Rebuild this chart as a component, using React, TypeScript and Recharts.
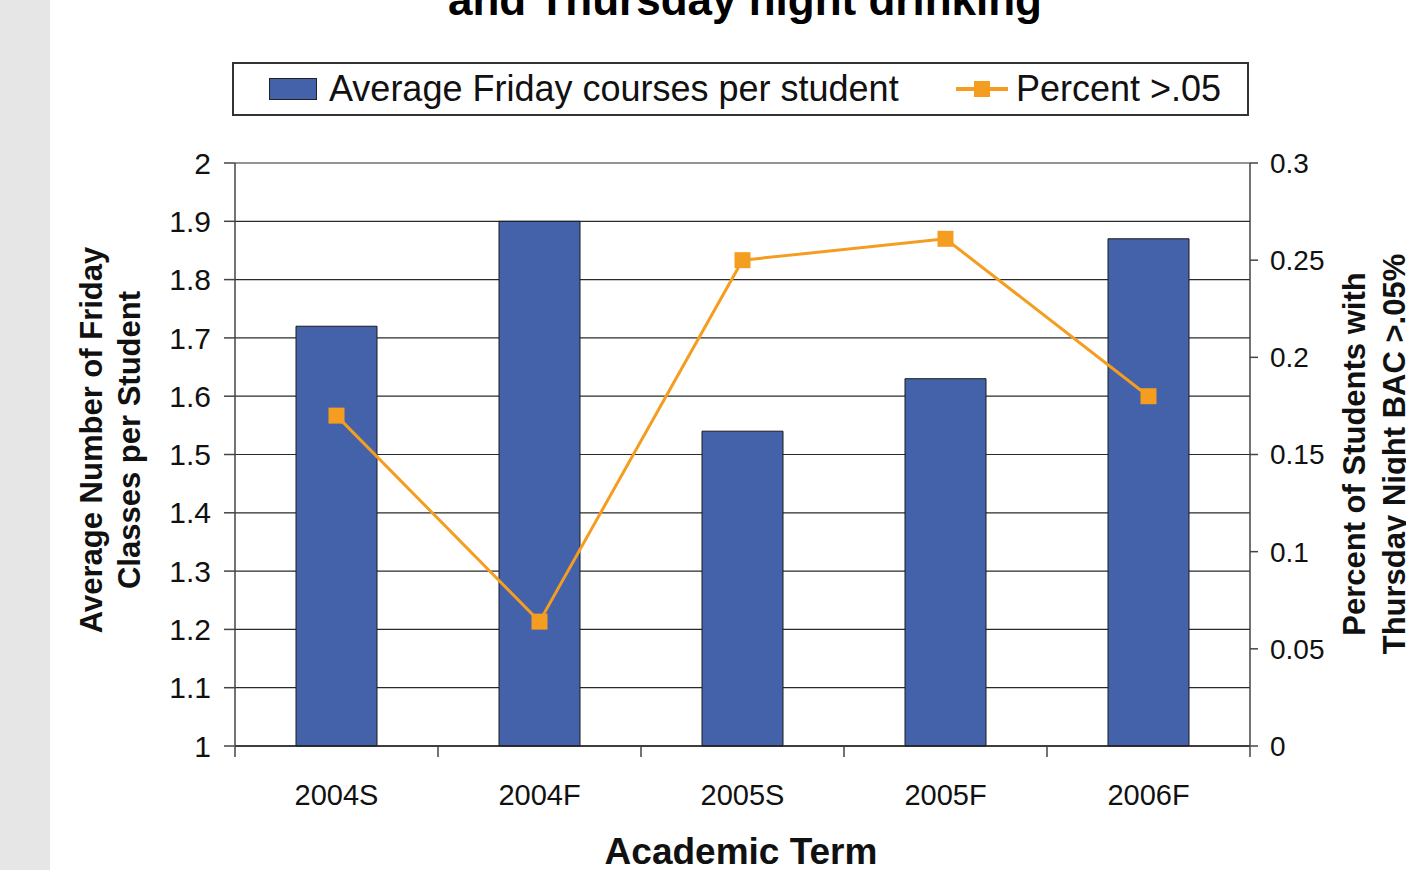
import React from 'react'
import {
  ComposedChart,
  Bar,
  Line,
  XAxis,
  YAxis,
  CartesianGrid,
} from 'recharts'

const terms = ['2004S', '2004F', '2005S', '2005F', '2006F']
const fridayCourses = [1.72, 1.9, 1.54, 1.63, 1.87]
const percentOver05 = [0.17, 0.064, 0.25, 0.261, 0.18]
const leftTicks = [1, 1.1, 1.2, 1.3, 1.4, 1.5, 1.6, 1.7, 1.8, 1.9, 2]
const rightTicks = [0, 0.05, 0.1, 0.15, 0.2, 0.25, 0.3]
const edgeTicks = [0, 1, 2, 3, 4, 5]

// pos = slot centre on the 0..5 edge axis, so the line lands on the bars
const data = terms.map((term, i) => ({
  term,
  pos: i + 0.5,
  courses: fridayCourses[i],
  percent: percentOver05[i],
}))

const BLUE = '#4462AA'
const ORANGE = '#F49D20'
const FONT = 'Arial, "Liberation Sans", sans-serif'

function SquareDot(props: any) {
  const { cx, cy, index } = props
  if (cx == null || cy == null) return null
  return <rect key={`dot-${index}`} x={cx - 8} y={cy - 8} width={16} height={16} fill={ORANGE} />
}

function LegendBox() {
  return (
    <div
      style={{
        position: 'absolute',
        left: 232,
        top: 62,
        width: 1013,
        height: 50,
        border: '2px solid #333',
        background: '#fff',
        fontFamily: FONT,
        fontSize: 36,
        color: '#111',
        whiteSpace: 'nowrap',
      }}
    >
      <span style={{ position: 'absolute', left: 35, top: 14, width: 48, height: 22, background: BLUE, border: '1px solid #222', boxSizing: 'border-box' }} />
      <span style={{ position: 'absolute', left: 95, top: 4, lineHeight: '42px' }}>Average Friday courses per student</span>
      <svg width={52} height={20} style={{ position: 'absolute', left: 722, top: 15 }}>
        <line x1={0} y1={10} x2={52} y2={10} stroke={ORANGE} strokeWidth={4} />
        <rect x={18} y={2} width={16} height={16} fill={ORANGE} />
      </svg>
      <span style={{ position: 'absolute', left: 782, top: 4, lineHeight: '42px' }}>Percent &gt;.05</span>
    </div>
  )
}

export default function App() {
  return (
    <div style={{ position: 'absolute', left: 0, top: 0, width: 1406, height: 870, background: '#fff', overflow: 'hidden', fontFamily: FONT }}>
      <div style={{ position: 'absolute', left: 0, top: 0, width: 50, height: 870, background: '#e6e6e6' }} />
      <div
        style={{
          position: 'absolute',
          left: 0,
          width: 1490,
          top: -22,
          textAlign: 'center',
          fontSize: 44,
          lineHeight: '44px',
          fontWeight: 'bold',
          color: '#000',
        }}
      >
        and Thursday night drinking
      </div>

      <ComposedChart
        width={1406}
        height={870}
        data={data}
        margin={{ top: 163, right: 0, bottom: 74, left: 0 }}
        style={{ position: 'absolute', left: 0, top: 0 }}
      >
        <CartesianGrid yAxisId="left" vertical={false} stroke="#2a2a2a" strokeWidth={1.2} />
        <XAxis
          dataKey="term"
          height={1}
          axisLine={{ stroke: '#222', strokeWidth: 1.5 }}
          tickLine={false}
          tick={{ fontSize: 29, fill: '#111', fontFamily: FONT, dy: 30 }}
        />
        <XAxis
          xAxisId="edges"
          dataKey="pos"
          type="number"
          domain={[0, 5]}
          ticks={edgeTicks}
          interval={0}
          height={49}
          axisLine={false}
          tickSize={10}
          tickLine={{ stroke: '#444', strokeWidth: 1.5 }}
          tickFormatter={() => ''}
        />
        <YAxis
          yAxisId="left"
          width={235}
          domain={[1, 2]}
          ticks={leftTicks}
          interval={0}
          tickSize={11}
          axisLine={{ stroke: '#444', strokeWidth: 1.5 }}
          tickLine={{ stroke: '#444', strokeWidth: 1.5 }}
          tick={{ fontSize: 30, fill: '#111', fontFamily: FONT, dx: -11 }}
          tickFormatter={(v: number) => String(Number(v.toFixed(1)))}
        />
        <YAxis
          yAxisId="right"
          orientation="right"
          width={156}
          domain={[0, 0.3]}
          ticks={rightTicks}
          interval={0}
          tickSize={8}
          axisLine={{ stroke: '#444', strokeWidth: 1.5 }}
          tickLine={{ stroke: '#444', strokeWidth: 1.5 }}
          tick={{ fontSize: 28, fill: '#111', fontFamily: FONT, dx: 10 }}
          tickFormatter={(v: number) => String(Number(v.toFixed(2)))}
        />
        <Bar
          yAxisId="left"
          dataKey="courses"
          name="Average Friday courses per student"
          fill={BLUE}
          stroke="#1a1a1a"
          strokeWidth={1}
          barSize={81}
          isAnimationActive={false}
        />
        <Line
          xAxisId="edges"
          yAxisId="right"
          dataKey="percent"
          name="Percent >.05"
          stroke={ORANGE}
          strokeWidth={3}
          dot={<SquareDot />}
          activeDot={false}
          isAnimationActive={false}
        />
      </ComposedChart>

      <LegendBox />

      <div
        style={{
          position: 'absolute',
          left: 111 - 300,
          top: 440 - 50,
          width: 600,
          height: 100,
          transform: 'rotate(-90deg)',
          textAlign: 'center',
          fontSize: 31,
          lineHeight: '38px',
          fontWeight: 'bold',
          color: '#111',
          display: 'flex',
          flexDirection: 'column',
          justifyContent: 'center',
        }}
      >
        <div>Average Number of Friday</div>
        <div>Classes per Student</div>
      </div>

      <div
        style={{
          position: 'absolute',
          left: 1375 - 300,
          top: 454 - 50,
          width: 600,
          height: 100,
          transform: 'rotate(-90deg)',
          textAlign: 'center',
          fontSize: 31,
          lineHeight: '40px',
          fontWeight: 'bold',
          color: '#111',
          display: 'flex',
          flexDirection: 'column',
          justifyContent: 'center',
        }}
      >
        <div>Percent of Students with</div>
        <div>Thursday Night BAC &gt;.05%</div>
      </div>

      <div
        style={{
          position: 'absolute',
          left: 441,
          top: 834,
          width: 600,
          textAlign: 'center',
          fontSize: 37,
          lineHeight: '36px',
          fontWeight: 'bold',
          color: '#111',
        }}
      >
        Academic Term
      </div>
    </div>
  )
}
